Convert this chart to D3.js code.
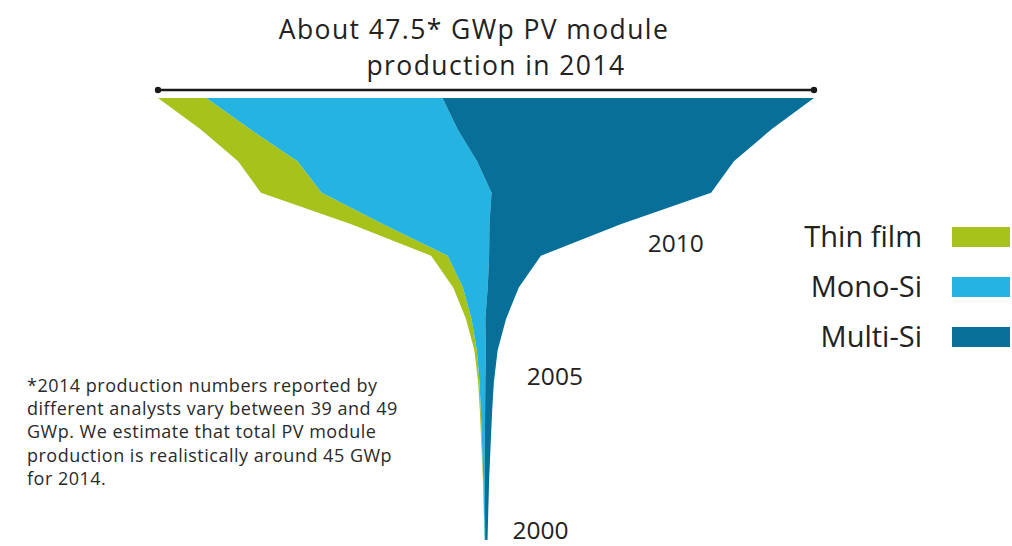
<!DOCTYPE html>
<html>
<head>
<meta charset="utf-8">
<script src="https://cdn.jsdelivr.net/npm/d3@7"></script>
<style>
  body { margin: 0; background: #fff; }
  text { font-family: "Open Sans", "Noto Sans", sans-serif; fill: #222; }
</style>
</head>
<body>
<div id="funnelChart"></div>
<script>
// Production per year and technology, GWp
const years = [2000, 2001, 2002, 2003, 2004, 2005, 2006, 2007, 2008, 2009, 2010, 2011, 2012, 2013, 2014];
const thinFilm = [0.01, 0.02, 0.03, 0.05, 0.07, 0.1, 0.18, 0.4, 0.7, 1.2, 2.3, 4.4, 4.3, 3.6, 3.5];
const monoSi = [0.04, 0.08, 0.12, 0.2, 0.3, 0.42, 0.65, 1.0, 1.8, 3.0, 7.7, 12.3, 13.0, 15.0, 17.1];
const multiSi = [0.17, 0.24, 0.32, 0.42, 0.5, 0.62, 0.85, 1.5, 2.25, 3.75, 9.5, 15.9, 18.6, 22.7, 26.9];

const seriesNames = ["Thin film", "Mono-Si", "Multi-Si"];
const seriesColors = ["#a7c21a", "#25b4e1", "#076f98"];
const yearLabels = [2010, 2005, 2000];

const titleLines = ["About 47.5* GWp PV module", "production in 2014"];
const footnoteLines = [
    "*2014 production numbers reported by",
    "different analysts vary between 39 and 49",
    "GWp. We estimate that total PV module",
    "production is realistically around 45 GWp",
    "for 2014."
];

function drawFunnel() {
    const width = 1012;
    const height = 546;

    const svg = d3.select("#funnelChart").append("svg")
        .attr("width", width)
        .attr("height", height);

    const rows = years.map((y, i) => ({
        year: y,
        "Thin film": thinFilm[i],
        "Mono-Si": monoSi[i],
        "Multi-Si": multiSi[i]
    }));

    // stacked around a centre line
    const stack = d3.stack()
        .keys(seriesNames)
        .offset(d3.stackOffsetSilhouette);
    const layers = stack(rows);

    const maxTotal = d3.max(rows, d => d["Thin film"] + d["Mono-Si"] + d["Multi-Si"]);

    const xScale = d3.scaleLinear()
        .domain([-maxTotal / 2, maxTotal / 2])
        .range([158, 814]);

    const yScale = d3.scaleLinear()
        .domain([2000, 2014])
        .range([540, 98]);

    const colorScale = d3.scaleOrdinal()
        .domain(seriesNames)
        .range(seriesColors);

    const area = d3.area()
        .curve(d3.curveLinear)
        .y(d => yScale(d.data.year))
        .x0(d => xScale(d[0]))
        .x1(d => xScale(d[1]));

    svg.append("g")
        .selectAll("path")
        .data(layers)
        .enter().append("path")
        .attr("fill", d => colorScale(d.key))
        .attr("d", area);

    // bracket line over the 2014 total
    const last = rows.length - 1;
    const xLeft = xScale(layers[0][last][0]);
    const xRight = xScale(layers[layers.length - 1][last][1]);
    const yBracket = yScale(2014) - 8;

    svg.append("line")
        .attr("x1", xLeft)
        .attr("x2", xRight)
        .attr("y1", yBracket)
        .attr("y2", yBracket)
        .attr("stroke", "#1a1a1a")
        .attr("stroke-width", 2.5);

    svg.selectAll("circle.end")
        .data([xLeft, xRight])
        .enter().append("circle")
        .attr("class", "end")
        .attr("cx", d => d)
        .attr("cy", yBracket)
        .attr("r", 3.2)
        .attr("fill", "#1a1a1a");

    // title
    svg.append("text")
        .attr("x", 474)
        .attr("y", 39)
        .attr("text-anchor", "middle")
        .style("font-size", "26.5px")
        .style("letter-spacing", "1.4px")
        .text(titleLines[0]);

    svg.append("text")
        .attr("x", 496)
        .attr("y", 75)
        .attr("text-anchor", "middle")
        .style("font-size", "26.5px")
        .style("letter-spacing", "1.4px")
        .text(titleLines[1]);

    // year labels to the right of the funnel
    const labelOffset = { 2010: [27, 28], 2005: [33, 3], 2000: [25, -1] };
    yearLabels.forEach(yr => {
        const i = years.indexOf(yr);
        const xr = xScale(layers[layers.length - 1][i][1]);
        svg.append("text")
            .attr("x", xr + labelOffset[yr][0])
            .attr("y", yScale(yr) + labelOffset[yr][1])
            .style("font-size", "24.5px")
            .text(yr);
    });

    // legend
    const legend = svg.append("g")
        .selectAll("g")
        .data(seriesNames)
        .enter().append("g")
        .attr("transform", (d, i) => `translate(0,${247 + i * 50})`);

    legend.append("text")
        .attr("x", 922)
        .attr("y", 0)
        .attr("text-anchor", "end")
        .style("font-size", "29px")
        .text(d => d);

    legend.append("rect")
        .attr("x", 952)
        .attr("y", -20)
        .attr("width", 58)
        .attr("height", 20)
        .attr("fill", d => colorScale(d));

    // footnote
    svg.append("g")
        .selectAll("text")
        .data(footnoteLines)
        .enter().append("text")
        .attr("x", 27)
        .attr("y", (d, i) => 392 + i * 23.2)
        .style("font-size", "18px")
        .style("letter-spacing", "0.5px")
        .style("fill", "#2a2a2a")
        .text(d => d);
}

drawFunnel();
</script>
</body>
</html>
